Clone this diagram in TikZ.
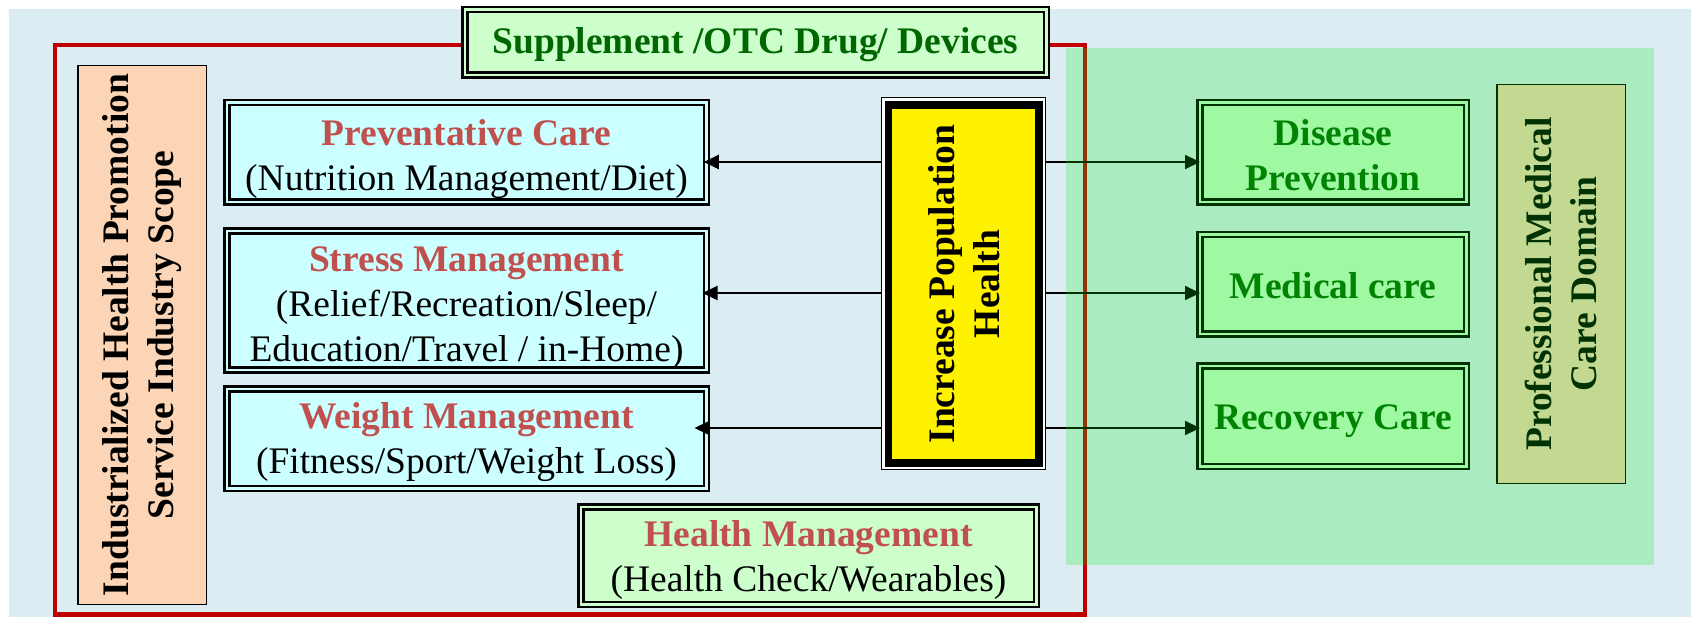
\documentclass[tikz,border=0pt]{standalone}
\usepackage{fontspec}
\setmainfont{Liberation Serif}
\usetikzlibrary{arrows.meta}

\definecolor{bgblue}{RGB}{219,236,242}
\definecolor{framered}{RGB}{192,0,0}
\definecolor{titlered}{RGB}{192,80,77}
\definecolor{leafgreen}{RGB}{0,102,0}
\definecolor{cyanfill}{RGB}{204,255,255}
\definecolor{mintfill}{RGB}{204,255,204}
\definecolor{peach}{RGB}{251,213,181}
\definecolor{domaingreen}{RGB}{0,232,18}

\newcommand{\bodyfont}{\fontsize{37.5}{45}\selectfont}
% extra room above the first line, which lowers the centred text by half of it
\newcommand{\topgap}[1]{\raisebox{#1}{\vphantom{A}}}

\begin{document}
\begin{tikzpicture}[x=1pt,y=-1pt,
  dbox/.style={draw=black, line width=2.5pt, double distance=2.5pt,
    inner sep=0pt, align=center, font=\bodyfont},
  careblue/.style={dbox, fill=cyanfill, double=cyanfill,
    minimum width=479.5pt},
  caremint/.style={dbox, fill=mintfill, double=mintfill},
  scopebox/.style={draw=black, line width=1.5pt, fill=peach, rotate=90,
    inner sep=0pt, align=center, font=\bodyfont\bfseries,
    minimum height=128.5pt},
  arr/.style={draw=black, line width=2pt,
    -{Triangle[length=15pt,width=14pt]}}
]
\useasboundingbox (0,0) rectangle (1691,617);

% page background
\fill[bgblue] (9,9) rectangle (1691,617);

% industry scope frame
\draw[framered, line width=4.5pt] (55,45) rectangle (1085,614.5);

% left column label
\node[scopebox, minimum width=538.5pt] (scope) at (142,335)
  {Industrialized Health Promotion\\Service Industry Scope};

% service boxes
\node[careblue, minimum height=99.5pt] (prev) at (466.5,152.5)
  {\topgap{15pt}\textcolor{titlered}{\bfseries Preventative Care}\\(Nutrition Management/Diet)};
\node[careblue, minimum height=133.5pt] (stress) at (466.5,300.5)
  {\topgap{16pt}\textcolor{titlered}{\bfseries Stress Management}\\(Relief/Recreation/Sleep/\\Education/Travel / in-Home)};
\node[careblue, minimum height=99.5pt] (weight) at (466.5,438.5)
  {\topgap{8pt}\textcolor{titlered}{\bfseries Weight Management}\\(Fitness/Sport/Weight Loss)};
\node[caremint, minimum width=455.5pt, minimum height=97.5pt] (hm) at (808.5,555.5)
  {\topgap{10pt}\textcolor{titlered}{\bfseries Health Management}\\(Health Check/Wearables)};

% supplement banner over the frame
\node[caremint, minimum width=581.5pt, minimum height=65.5pt, text=leafgreen,
  font=\bodyfont\bfseries] (supp) at (755.5,42.5)
  {\topgap{6pt}Supplement /OTC Drug/ Devices};

% central goal
\node[draw=black, line width=1.2pt, fill=white, minimum width=163.8pt,
  minimum height=371.8pt, inner sep=0pt] (yel) at (963.5,283.5) {};
\node[draw=black, line width=7.5pt, fill=yellow, rotate=90, inner sep=0pt,
  minimum width=358pt, minimum height=150.5pt, align=center,
  font=\bodyfont\bfseries] (goal) at (963.75,284)
  {Increase Population\\Health};

% medical domain boxes
\node[caremint, minimum width=266.5pt, minimum height=99.5pt, text=leafgreen,
  font=\bodyfont\bfseries] (dis) at (1333,152.5) {\topgap{6pt}Disease\\Prevention};
\node[caremint, minimum width=266.5pt, minimum height=99.5pt, text=leafgreen,
  font=\bodyfont\bfseries] (med) at (1333,284.5) {\topgap{4pt}Medical care};
\node[caremint, minimum width=266.5pt, minimum height=100.5pt, text=leafgreen,
  font=\bodyfont\bfseries] (rec) at (1333,416) {\topgap{10pt}Recovery Care};

\node[scopebox, minimum width=398.5pt] (prof) at (1561,284)
  {Professional Medical\\Care Domain};

% connectors
\draw[arr, shorten >=-3.75pt] (yel.west |- 0,162) -- (prev.east |- 0,162);
\draw[arr, shorten >=-5pt] (yel.west |- 0,293) -- (stress.east |- 0,293);
\draw[arr, shorten >=-13pt] (yel.west |- 0,428) -- (weight.east |- 0,428);
\draw[arr, shorten >=-1.5pt] (yel.east |- 0,162) -- (dis.west |- 0,162);
\draw[arr, shorten >=-1.5pt] (yel.east |- 0,293) -- (med.west |- 0,293);
\draw[arr, shorten >=-1.5pt] (yel.east |- 0,428) -- (rec.west |- 0,428);

% professional domain tint
\fill[domaingreen, fill opacity=0.22] (1066,48) rectangle (1654,565);
\end{tikzpicture}
\end{document}
